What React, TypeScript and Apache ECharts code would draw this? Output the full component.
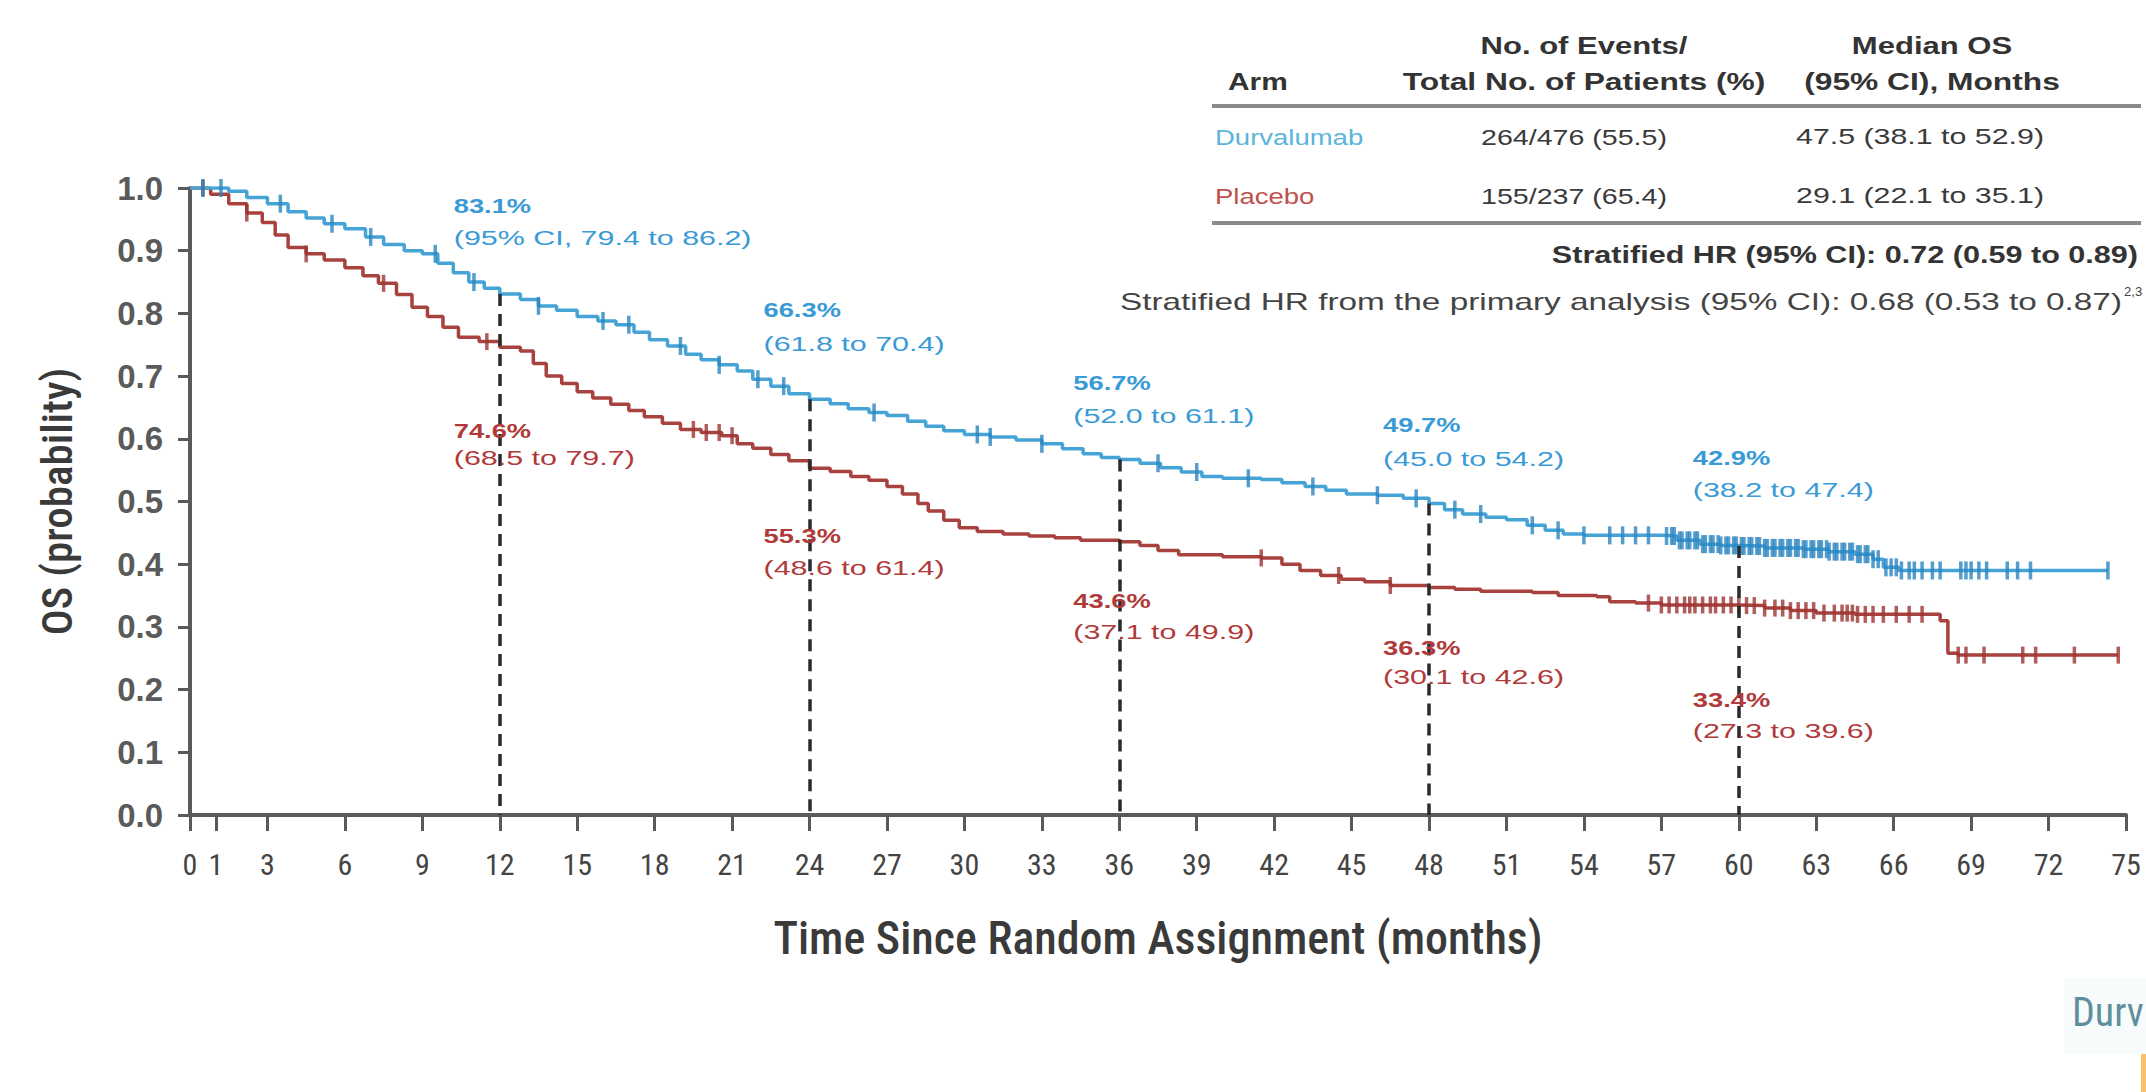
import React, { useEffect, useRef } from "react";
import * as echarts from "echarts";

// ---------------- DATA ----------------
const xTickValues = [0, 1, 3, 6, 9, 12, 15, 18, 21, 24, 27, 30, 33, 36, 39, 42, 45, 48, 51, 54, 57, 60, 63, 66, 69, 72, 75];

const landmarkMonths = [12, 24, 36, 48, 60];
const durvaLandmarkPct = [83.1, 66.3, 56.7, 49.7, 42.9];
const durvaLandmarkCI = ["(95% CI, 79.4 to 86.2)", "(61.8 to 70.4)", "(52.0 to 61.1)", "(45.0 to 54.2)", "(38.2 to 47.4)"];
const placeboLandmarkPct = [74.6, 55.3, 43.6, 36.3, 33.4];
const placeboLandmarkCI = ["(68.5 to 79.7)", "(48.6 to 61.4)", "(37.1 to 49.9)", "(30.1 to 42.6)", "(27.3 to 39.6)"];

const durvaTimes = [0, 1.5, 2.2, 3, 3.8, 4.5, 5.2, 6, 6.8, 7.5, 8.3, 9, 9.6, 10.2, 10.8, 11.4, 12, 12.8, 13.5, 14.2, 15, 15.8, 16.5, 17.2, 17.8, 18.5, 19.2, 19.8, 20.5, 21.2, 21.8, 22.5, 23.2, 24, 24.8, 25.5, 26.3, 27, 27.8, 28.5, 29.2, 30, 31, 32, 33, 33.8, 34.6, 35.3, 36, 36.8, 37.6, 38.4, 39.2, 40, 41.5, 42.3, 43.2, 44, 44.8, 46, 47, 48, 48.6, 49.3, 50.2, 51, 51.8, 52.5, 53.2, 54, 57, 57.6, 58.5, 59.3, 60, 61, 62.5, 63.5, 64.5, 65.2, 65.6, 66.2, 74.3];
const durvaSurv = [1.0, 0.995, 0.985, 0.975, 0.962, 0.952, 0.943, 0.935, 0.922, 0.91, 0.9, 0.895, 0.88, 0.865, 0.85, 0.84, 0.831, 0.822, 0.812, 0.805, 0.795, 0.788, 0.782, 0.77, 0.758, 0.748, 0.735, 0.726, 0.718, 0.708, 0.695, 0.684, 0.672, 0.663, 0.656, 0.648, 0.642, 0.637, 0.628, 0.62, 0.613, 0.607, 0.603, 0.598, 0.592, 0.584, 0.576, 0.57, 0.567, 0.561, 0.554, 0.547, 0.54, 0.537, 0.535, 0.53, 0.524, 0.518, 0.512, 0.51, 0.505, 0.497, 0.487, 0.48, 0.475, 0.471, 0.462, 0.454, 0.448, 0.446, 0.445, 0.438, 0.432, 0.43, 0.429, 0.426, 0.424, 0.42, 0.416, 0.408, 0.395, 0.39, 0.39];
const durvaCensor = [0.5, 1.2, 3.5, 5.5, 7, 9.5, 11, 13.5, 16, 17, 19, 20.5, 22, 23, 26.5, 30.5, 31, 33, 37.5, 39, 41, 43.5, 46, 47.5, 49, 50, 52, 53, 54, 55, 55.5, 56, 56.5, 57.2, 57.4, 57.5, 57.7, 57.8, 58.0, 58.1, 58.3, 58.4, 58.6, 58.7, 58.9, 59.0, 59.2, 59.3, 59.5, 59.6, 59.8, 59.9, 60.1, 60.2, 60.4, 60.5, 60.7, 60.8, 61.0, 61.1, 61.3, 61.4, 61.6, 61.7, 61.9, 62.0, 62.2, 62.3, 62.5, 62.6, 62.8, 62.9, 63.1, 63.2, 63.4, 63.5, 63.7, 63.8, 64.0, 64.1, 64.3, 64.4, 64.6, 64.7, 64.9, 65.0, 65.2, 65.4, 65.7, 65.9, 66.1, 66.3, 66.6, 66.8, 67.1, 67.5, 67.8, 68.6, 68.8, 69.0, 69.3, 69.6, 70.4, 70.8, 71.3, 74.3];

const placeboTimes = [0, 0.8, 1.5, 2.2, 2.8, 3.3, 3.8, 4.5, 5.2, 6, 6.7, 7.3, 8, 8.6, 9.2, 9.8, 10.4, 11.2, 12, 12.8, 13.3, 13.8, 14.4, 15, 15.6, 16.3, 17, 17.6, 18.3, 19, 19.8, 20.6, 21.2, 21.8, 22.5, 23.2, 24, 24.8, 25.6, 26.3, 27, 27.6, 28.2, 28.6, 29.2, 29.8, 30.5, 31.5, 32.5, 33.5, 34.5, 36, 36.8, 37.5, 38.3, 40, 41.5, 42.3, 43, 43.8, 44.6, 45.5, 46.5, 48, 49, 50, 52, 53, 54.5, 55, 56, 57, 60, 61, 62, 63, 64.5, 67.8, 68.1, 68.5, 74.7];
const placeboSurv = [1.0, 0.99, 0.975, 0.96, 0.945, 0.925, 0.905, 0.895, 0.885, 0.873, 0.86, 0.848, 0.83, 0.81, 0.795, 0.778, 0.762, 0.755, 0.746, 0.74, 0.72, 0.7, 0.688, 0.675, 0.665, 0.655, 0.645, 0.635, 0.625, 0.615, 0.61, 0.605, 0.592, 0.585, 0.575, 0.565, 0.553, 0.548, 0.54, 0.534, 0.524, 0.512, 0.497, 0.485, 0.47, 0.458, 0.452, 0.448, 0.445, 0.442, 0.438, 0.436, 0.43, 0.422, 0.415, 0.412, 0.41, 0.4, 0.39, 0.382, 0.376, 0.372, 0.366, 0.363, 0.36, 0.357, 0.355, 0.35, 0.348, 0.34, 0.338, 0.335, 0.334, 0.33, 0.326, 0.322, 0.32, 0.31, 0.258, 0.255, 0.255];
const placeboCensor = [0.5, 2.2, 4.5, 7.5, 11.5, 19.5, 20, 20.5, 21, 41.5, 44.5, 46.5, 56.5, 57, 57.3, 57.6, 57.9, 58.1, 58.3, 58.6, 58.9, 59.1, 59.4, 59.7, 60, 60.3, 60.6, 61, 61.4, 61.7, 62, 62.3, 62.6, 62.9, 63.3, 63.7, 64, 64.2, 64.4, 64.6, 64.9, 65.2, 65.6, 66.1, 66.6, 67.1, 68.5, 68.8, 69.5, 71, 71.5, 73, 74.7];

const tableHeader1 = ["", "No. of Events/", "Median OS"];
const tableHeader2 = ["Arm", "Total No. of Patients (%)", "(95% CI), Months"];
const arms = ["Durvalumab", "Placebo"];
const armEvents = ["264/476 (55.5)", "155/237 (65.4)"];
const armMedians = ["47.5 (38.1 to 52.9)", "29.1 (22.1 to 35.1)"];
const hrText = "Stratified HR (95% CI): 0.72 (0.59 to 0.89)";
const hrPrimaryText = "Stratified HR from the primary analysis (95% CI): 0.68 (0.53 to 0.87)";
const hrPrimarySup = "2,3";
const cornerText = "Durv";

// ---------------- STYLE ----------------
const BLUE = "#45a3d6";
const BLUE_DARK = "#2a84c0";
const RED = "#a8423f";
const RED_DARK = "#9c3533";
const BLUE_TEXT = "#3a9ad6";
const RED_TEXT = "#b03a3a";
const NARROW = '"Liberation Sans Narrow", "Roboto Condensed", "Liberation Sans", Arial, sans-serif';
const SANS = '"Liberation Sans", Arial, sans-serif';

function survAt(times: number[], surv: number[], t: number) {
  let v = surv[0];
  for (let i = 0; i < times.length; i++) if (times[i] <= t) v = surv[i];
  return v;
}

export default function App() {
  const ref = useRef<HTMLDivElement>(null);
  useEffect(() => {
    if (!ref.current) return;
    const chart = echarts.init(ref.current, null, { renderer: "svg" });
    const durvaLine = durvaTimes.map((t, i) => [t, durvaSurv[i]]);
    const placeboLine = placeboTimes.map((t, i) => [t, placeboSurv[i]]);
    const durvaMarks = durvaCensor.map((t) => [t, survAt(durvaTimes, durvaSurv, t)]);
    const placeboMarks = placeboCensor.map((t) => [t, survAt(placeboTimes, placeboSurv, t)]);
    const dashData = landmarkMonths.map((m, i) => [
      { coord: [m, durvaLandmarkPct[i] / 100] },
      { coord: [m, 0] },
    ]);

    const option: any = {
      animation: false,
      backgroundColor: "#ffffff",
      grid: { left: 190, right: 20, top: 188, bottom: 277, containLabel: false },
      xAxis: {
        type: "value",
        min: 0,
        max: 75,
        interval: 3,
        name: "Time Since Random Assignment (months)",
        nameLocation: "middle",
        nameGap: 100,
        nameTextStyle: { fontFamily: NARROW, fontSize: 46, color: "#3a3a3a", fontWeight: 500 },
        axisLine: { show: true, lineStyle: { color: "#5a5a5a", width: 4 } },
        axisTick: { show: true, length: 16, lineStyle: { color: "#5a5a5a", width: 3 }, customValues: xTickValues },
        axisLabel: { customValues: xTickValues, margin: 34, fontFamily: NARROW, fontSize: 30, color: "#444" },
        splitLine: { show: false },
      },
      yAxis: {
        type: "value",
        min: 0,
        max: 1,
        interval: 0.1,
        name: "OS (probability)",
        nameLocation: "middle",
        nameRotate: 90,
        nameGap: 112,
        nameTextStyle: { fontFamily: NARROW, fontSize: 43, color: "#3a3a3a", fontWeight: 500 },
        axisLine: { show: true, lineStyle: { color: "#5a5a5a", width: 4 } },
        axisTick: { show: true, length: 12, lineStyle: { color: "#5a5a5a", width: 3 } },
        axisLabel: {
          margin: 27,
          fontFamily: SANS,
          fontWeight: "bold",
          fontSize: 33,
          color: "#5a5a5a",
          formatter: (v: number) => v.toFixed(1),
        },
        splitLine: { show: false },
      },
      series: [
        {
          type: "line",
          name: "Placebo",
          data: placeboLine,
          step: "end",
          showSymbol: false,
          lineStyle: { color: RED, width: 3.5 },
          z: 3,
        },
        {
          type: "line",
          name: "Durvalumab",
          data: durvaLine,
          step: "end",
          showSymbol: false,
          lineStyle: { color: BLUE, width: 3.5 },
          z: 3,
        },
        {
          type: "scatter",
          data: placeboMarks,
          symbol: "rect",
          symbolSize: [3.5, 17],
          itemStyle: { color: RED_DARK },
          z: 4,
        },
        {
          type: "scatter",
          data: durvaMarks,
          symbol: "rect",
          symbolSize: [3.5, 18],
          itemStyle: { color: BLUE_DARK },
          z: 4,
        },
        {
          type: "line",
          data: [],
          silent: true,
          markLine: {
            silent: true,
            symbol: ["none", "none"],
            label: { show: false },
            lineStyle: { color: "#2a2a2a", width: 3.5, type: [12, 8] },
            data: dashData,
          },
          z: 2,
        },
      ],
    };
    chart.setOption(option);

    const px = (m: number, v: number) => chart.convertToPixel({ gridIndex: 0 }, [m, v]) as number[];
    const blueY = [[206, 238], [310, 344], [383, 416], [425, 459], [458, 490]];
    const redY = [[431, 458], [536, 568], [601, 632], [648, 677], [700, 731]];
    const g: any[] = [];
    const txt = (text: string, x: number, y: number, fill: string, size: number, weight: any, align = "left", scaleX = 1, family = SANS) => ({
      type: "text",
      x,
      y,
      scaleX,
      silent: true,
      style: { text, fill, font: `${weight} ${size}px ${family}`, align, verticalAlign: "middle" },
      z: 10,
    });
    landmarkMonths.forEach((m, i) => {
      const x = px(m, 0)[0] - 46;
      g.push(txt(`${durvaLandmarkPct[i].toFixed(1)}%`, x, blueY[i][0], BLUE_TEXT, 21, "bold", "left", 1.3));
      g.push(txt(durvaLandmarkCI[i], x, blueY[i][1], BLUE_TEXT, 21, "normal", "left", 1.45));
      g.push(txt(`${placeboLandmarkPct[i].toFixed(1)}%`, x, redY[i][0], RED_TEXT, 21, "bold", "left", 1.3));
      g.push(txt(placeboLandmarkCI[i], x, redY[i][1], RED_TEXT, 21, "normal", "left", 1.45));
    });

    // table
    const colX = [1228, 1584, 1920];
    g.push(txt(tableHeader1[1], colX[1], 46, "#333", 23, "bold", "center", 1.35));
    g.push(txt(tableHeader1[2], colX[2] + 12, 46, "#333", 23, "bold", "center", 1.35));
    g.push(txt(tableHeader2[0], colX[0], 82, "#333", 23, "bold", "left", 1.3));
    g.push(txt(tableHeader2[1], colX[1], 82, "#333", 23, "bold", "center", 1.38));
    g.push(txt(tableHeader2[2], colX[2] + 12, 82, "#333", 23, "bold", "center", 1.38));
    g.push({ type: "line", shape: { x1: 1212, y1: 106, x2: 2141, y2: 106 }, style: { stroke: "#8a8a8a", lineWidth: 4 }, silent: true });
    const rowY = [137, 196];
    const armColors = ["#5ab4dc", "#c0504d"];
    arms.forEach((a, i) => {
      g.push(txt(a, 1215, rowY[i], armColors[i], 22, "normal", "left", 1.25));
      g.push(txt(armEvents[i], colX[1] - 10, rowY[i], "#3a3a3a", 22, "normal", "center", 1.3));
      g.push(txt(armMedians[i], colX[2], rowY[i], "#3a3a3a", 22, "normal", "center", 1.38));
    });
    g.push({ type: "line", shape: { x1: 1212, y1: 223, x2: 2141, y2: 223 }, style: { stroke: "#8a8a8a", lineWidth: 4 }, silent: true });
    g.push(txt(hrText, 2138, 255, "#333", 23, "bold", "right", 1.33));
    g.push(txt(hrPrimaryText, 2122, 302, "#444", 23, "500", "right", 1.45));
    g.push(txt(hrPrimarySup, 2124, 292, "#444", 12, "normal", "left", 1.1));

    // cropped corner remnants
    g.push({ type: "rect", shape: { x: 2064, y: 978, width: 82, height: 76 }, style: { fill: "#f8fbfc" }, silent: true, z: 1 });
    g.push(txt(cornerText, 2072, 1012, "#5f8f9c", 40, "normal", "left", 1, NARROW));
    g.push({ type: "rect", shape: { x: 2141, y: 1050, width: 5, height: 42 }, style: { fill: "#f5c16c" }, silent: true });

    chart.setOption({ graphic: g });
    return () => chart.dispose();
  }, []);
  return <div ref={ref} style={{ position: "fixed", left: 0, top: 0, width: 2146, height: 1092, background: "#fff" }} />;
}
